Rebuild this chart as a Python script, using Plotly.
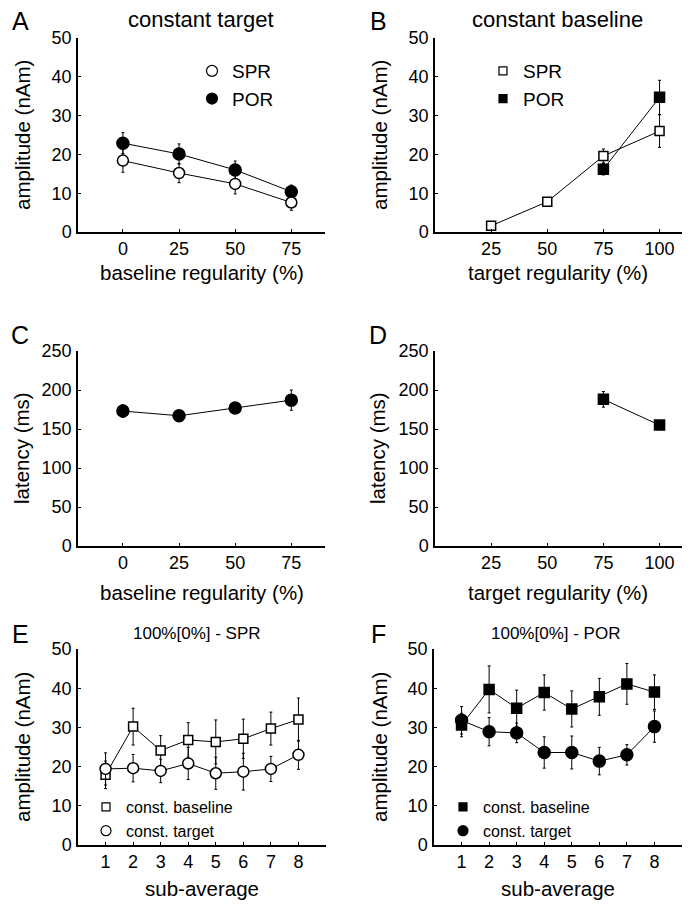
import plotly.graph_objects as go

# ---------------- data ----------------
a_x = [0, 25, 50, 75]
a_spr = [18.4, 15.2, 12.4, 7.6]
a_spr_err = [3.0, 2.5, 2.6, 2.0]
a_por = [22.9, 20.1, 16.0, 10.4]
a_por_err = [2.7, 2.6, 2.3, 1.7]

b_x_spr = [25, 50, 75, 100]
b_spr = [1.6, 7.8, 19.6, 26.0]
b_spr_err = [0.8, 0.7, 1.8, 4.2]
b_x_por = [75, 100]
b_por = [16.2, 34.7]
b_por_err = [1.5, 4.4]

c_x = [0, 25, 50, 75]
c_lat = [173, 167, 177, 187]
c_lat_err = [8, 3, 4, 13]

d_x = [75, 100]
d_lat = [188, 155]
d_lat_err = [10, 3]

sub_avg = [1, 2, 3, 4, 5, 6, 7, 8]
e_base = [17.9, 30.2, 24.1, 26.8, 26.3, 27.1, 29.7, 32.0]
e_base_err = [3.5, 4.7, 3.8, 4.4, 5.6, 5.0, 4.2, 5.5]
e_targ = [19.4, 19.6, 18.9, 20.8, 18.3, 18.7, 19.4, 23.0]
e_targ_err = [4.1, 3.5, 3.0, 4.1, 4.1, 4.7, 3.2, 3.7]

f_base = [30.6, 39.7, 34.9, 38.9, 34.7, 37.8, 41.1, 39.0]
f_base_err = [3.0, 6.0, 4.6, 4.5, 4.6, 4.7, 5.2, 4.4]
f_targ = [31.8, 28.9, 28.6, 23.6, 23.6, 21.4, 23.0, 30.2]
f_targ_err = [3.5, 3.6, 2.5, 4.0, 4.2, 3.5, 2.6, 4.0]

amp_ticks = [0, 10, 20, 30, 40, 50]
lat_ticks = [0, 50, 100, 150, 200, 250]
a_ticks = [0, 25, 50, 75]
b_ticks = [25, 50, 75, 100]

# ---------------- styling ----------------
PAGE_W, PAGE_H = 695, 910
OFF = 8  # default body margin of the html page
W, H = PAGE_W - OFF, PAGE_H - OFF
FONT = "Liberation Sans, Arial, Helvetica, sans-serif"
BLACK = "black"


def px_x(p):
    return (p - OFF) / W


def px_y(p):
    return 1 - (p - OFF) / H


fig = go.Figure()


def series(x, y, err, xa, ya, symbol, filled, size, line=True):
    fig.add_trace(go.Scatter(
        x=x, y=y, xaxis=xa, yaxis=ya,
        mode="lines+markers" if line else "markers",
        line=dict(color=BLACK, width=1),
        marker=dict(symbol=symbol, size=size,
                    color=BLACK if filled else "white",
                    line=dict(color=BLACK, width=1.5)),
        error_y=dict(type="data", array=err, color=BLACK, thickness=1, width=1.5),
        cliponaxis=False, showlegend=False,
    ))


def legend_entry(name, symbol, filled, size, legend):
    fig.add_trace(go.Scatter(
        x=[None], y=[None], mode="markers", name=name, legend=legend,
        marker=dict(symbol=symbol, size=size,
                    color=BLACK if filled else "white",
                    line=dict(color=BLACK, width=1.2)),
        showlegend=True,
    ))


# A
series(a_x, a_por, a_por_err, "x", "y", "circle", True, 12)
series(a_x, a_spr, a_spr_err, "x", "y", "circle", False, 11)
# B
series(b_x_por, b_por, b_por_err, "x2", "y2", "square", True, 10)
series(b_x_spr, b_spr, b_spr_err, "x2", "y2", "square", False, 9)
# C
series(c_x, c_lat, c_lat_err, "x3", "y3", "circle", True, 12)
# D
series(d_x, d_lat, d_lat_err, "x4", "y4", "square", True, 10)
# E
series(sub_avg, e_base, e_base_err, "x5", "y5", "square", False, 9)
series(sub_avg, e_targ, e_targ_err, "x5", "y5", "circle", False, 11)
# F
series(sub_avg, f_base, f_base_err, "x6", "y6", "square", True, 10)
series(sub_avg, f_targ, f_targ_err, "x6", "y6", "circle", True, 12)

# legends
legend_entry("SPR", "circle", False, 11, "legend")
legend_entry("POR", "circle", True, 11, "legend")
legend_entry("SPR", "square", False, 8, "legend2")
legend_entry("POR", "square", True, 8, "legend2")
legend_entry("const. baseline", "square", False, 8, "legend3")
legend_entry("const. target", "circle", False, 10, "legend3")
legend_entry("const. baseline", "square", True, 8, "legend4")
legend_entry("const. target", "circle", True, 10, "legend4")

# axes geometry (pixel positions on the page)
cols = [(78, 325), (435, 682)]
rows = [(38, 232), (351, 546), (649, 845)]

axis_common = dict(
    showline=True, linecolor=BLACK, linewidth=1.5,
    ticks="inside", ticklen=3, tickwidth=1, tickcolor=BLACK,
    showgrid=False, zeroline=False, automargin=False,
    tickfont=dict(family=FONT, size=18, color=BLACK),
    fixedrange=True,
)

xranges = [[-20, 90], [0, 110], [-20, 90], [0, 110], [0, 9], [0, 9]]
xtickvals = [a_ticks, b_ticks, a_ticks, b_ticks, sub_avg, sub_avg]
yranges = [[0, 50], [0, 50], [0, 250], [0, 250], [0, 50], [0, 50]]
ytickvals = [amp_ticks, amp_ticks, lat_ticks, lat_ticks, amp_ticks, amp_ticks]

layout = {}
for i in range(6):
    r, c = divmod(i, 2)
    x0, x1 = cols[c]
    if i >= 4 and c == 0:
        x1 = 326
    if i >= 4 and c == 1:
        x0 = 434
    y0, y1 = rows[r]
    sfx = "" if i == 0 else str(i + 1)
    layout["xaxis" + sfx] = dict(
        axis_common, domain=[px_x(x0), px_x(x1)], range=xranges[i],
        tickvals=xtickvals[i], ticktext=[str(v) for v in xtickvals[i]],
        anchor="y" + sfx, ticklabelstandoff=0,
    )
    layout["yaxis" + sfx] = dict(
        axis_common, domain=[px_y(y1), px_y(y0)], range=yranges[i],
        tickvals=ytickvals[i], ticktext=[str(v) for v in ytickvals[i]],
        anchor="x" + sfx, ticklabelstandoff=1,
    )

fig.update_layout(**layout)

annotations = []


def text(x, y, s, size, xanchor="center", yanchor="middle", angle=0):
    annotations.append(dict(
        x=px_x(x), y=px_y(y), xref="paper", yref="paper", text=s,
        showarrow=False, xanchor=xanchor, yanchor=yanchor, textangle=angle,
        font=dict(family=FONT, size=size, color=BLACK),
    ))


# panel letters
for lab, (lx, ly) in zip("ABCDEF", [(20, 21), (378, 21), (20, 335), (378, 335), (20, 634), (378, 634)]):
    text(lx, ly, lab, 25)

# titles
text(201, 19, "constant target", 22)
text(557, 19, "constant baseline", 22)
text(197, 633, "100%[0%] - SPR", 17)
text(555, 633, "100%[0%] - POR", 17)

# axis titles
text(22, 135, "amplitude (nAm)", 20.5, angle=-90)
text(379, 135, "amplitude (nAm)", 20.5, angle=-90)
text(21, 448, "latency (ms)", 20.5, angle=-90)
text(377, 448, "latency (ms)", 20.5, angle=-90)
text(22, 747, "amplitude (nAm)", 20.5, angle=-90)
text(379, 747, "amplitude (nAm)", 20.5, angle=-90)

text(202, 273, "baseline regularity (%)", 20.5)
text(558, 273, "target regularity (%)", 20.5)
text(202, 592, "baseline regularity (%)", 20.5)
text(558, 592, "target regularity (%)", 20.5)
text(202, 888, "sub-average", 20.5)
text(558, 888, "sub-average", 20.5)

leg_common = dict(
    bgcolor="rgba(0,0,0,0)", borderwidth=0,
    xanchor="left", yanchor="top", itemwidth=30,
    tracegroupgap=0, itemclick=False, itemdoubleclick=False,
)

fig.update_layout(
    width=W, height=H,
    template="none",
    margin=dict(l=0, r=0, t=0, b=0, autoexpand=False),
    paper_bgcolor="white", plot_bgcolor="white",
    annotations=annotations,
    legend=dict(leg_common, x=px_x(192), y=px_y(52), font=dict(family=FONT, size=19, color=BLACK)),
    legend2=dict(leg_common, x=px_x(483), y=px_y(52), font=dict(family=FONT, size=19, color=BLACK)),
    legend3=dict(leg_common, x=px_x(86), y=px_y(790), font=dict(family=FONT, size=16, color=BLACK)),
    legend4=dict(leg_common, x=px_x(443), y=px_y(790), font=dict(family=FONT, size=16, color=BLACK)),
)

fig.write_html("out.html")
